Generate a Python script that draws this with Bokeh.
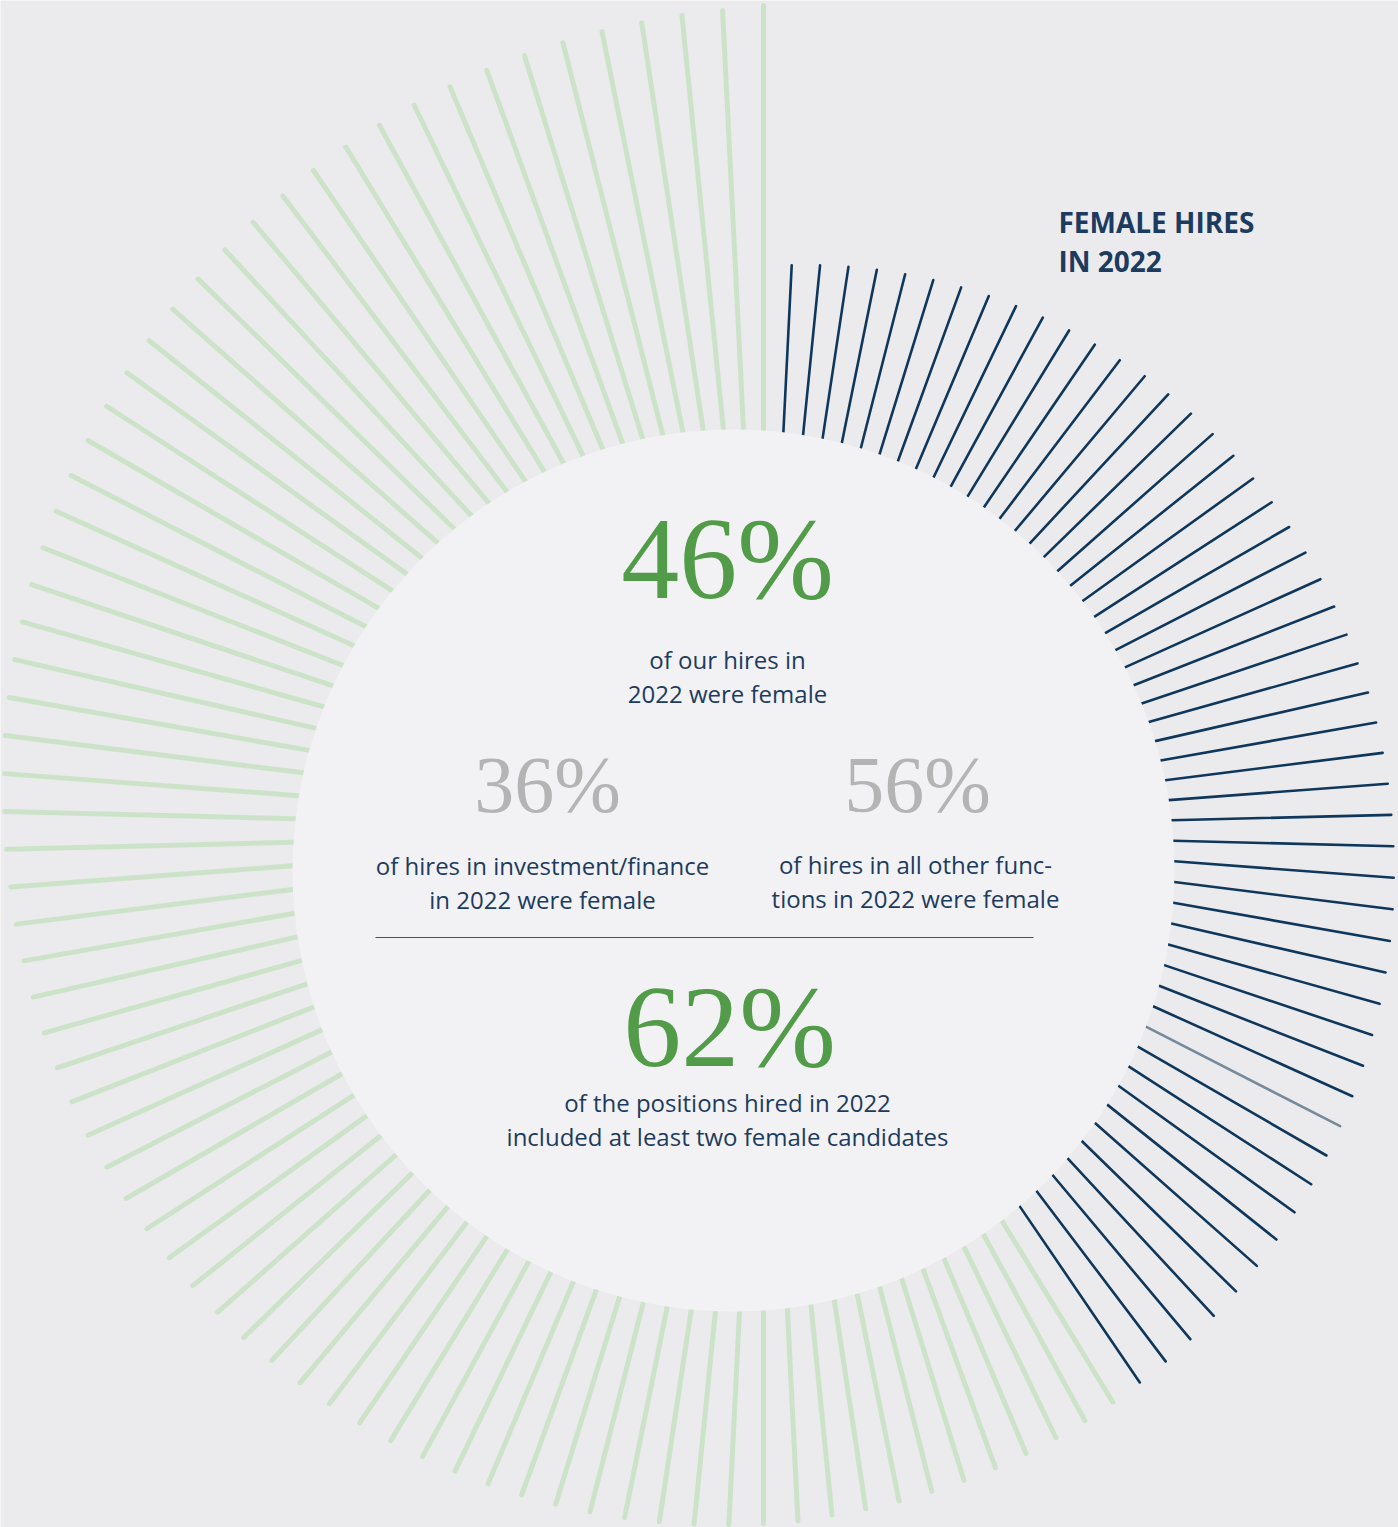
import math
from bokeh.plotting import figure
from bokeh.models import Range1d, ColumnDataSource
from bokeh.embed import file_html
from bokeh.resources import INLINE
from bokeh.core.properties import value

# ---------------- data ----------------
# one radial line per step of 360/126 degrees, index 0 = 12 o'clock, clockwise
line_count = 126
# outer reach of each line, measured from the rays' origin (px)
outer_radius = [
    825,
    566, 568, 570, 572, 574, 576, 578, 580, 582, 584,
    586, 588, 590, 593, 595, 597, 599, 601, 603, 605,
    607, 609, 611, 613, 615, 617, 620, 622, 624, 626,
    628, 630, 632, 634, 636, 638, 640, 642, 644, 646,
    648, 650, 652, 654, 656, 658, 660, 662, 664, 666,
    668, 670, 672, 674, 676, 678, 680, 682, 684, 686,
    688, 691, 693, 695, 697, 699, 701, 703, 705, 707,
    709, 711, 713, 715, 717, 719, 721, 723, 726, 728,
    730, 732, 734, 736, 738, 741, 743, 745, 747, 749,
    751, 753, 755, 757, 759, 761, 764, 766, 768, 770,
    772, 774, 776, 778, 780, 782, 784, 786, 788, 790,
    792, 794, 796, 799, 801, 803, 805, 807, 809, 811,
    813, 815, 817, 819, 821,
]
navy_lines = 51          # lines 1..51 are dark (clockwise from top)
highlight_line = 41      # one line drawn in slate grey

headline = ["FEMALE HIRES", "IN 2022"]
big_values = ["46%", "36%", "56%", "62%"]
captions = [
    ["of our hires in", "2022 were female"],
    ["of hires in investment/finance", "in 2022 were female"],
    ["of hires in all other func-", "tions in 2022 were female"],
    ["of the positions hired in 2022", "included at least two female candidates"],
]

# ---------------- geometry / style ----------------
W, H = 1398, 1527
OFF = 0
BG = "#ebebed"
INNER = "#f2f2f4"
GREEN_LINE = "#cde3c9"
NAVY = "#0f375b"
SLATE = "#778a9b"
TEXT_NAVY = "#1d3b5e"
BIG_GREEN = "#529b48"
BIG_GREY = "#b4b4b4"

FX, FY = 763.0, 830.0      # origin of the rays
CX, CY = 733.0, 870.0      # centre of the inner disc
R_IN = 441.0

# empirical shift so that the requested y is the text baseline
SANS_SHIFT = 0.40
SERIF_SHIFT = 0.355

p = figure(width=W, height=H,
           x_range=Range1d(OFF, OFF + W), y_range=Range1d(OFF + H, OFF),
           output_backend="svg", toolbar_location=None, min_border=0,
           x_axis_location=None, y_axis_location=None)
p.grid.visible = False
p.outline_line_color = None
p.background_fill_color = BG
p.border_fill_color = BG

groups = {"green": ([], [], [], []), "navy": ([], [], [], []), "slate": ([], [], [], [])}
dx, dy = FX - CX, FY - CY
for k in range(line_count):
    th = 2 * math.pi * k / line_count
    ux, uy = math.sin(th), -math.cos(th)
    b = dx * ux + dy * uy
    t0 = -b + math.sqrt(b * b - (dx * dx + dy * dy) + R_IN * R_IN)
    t1 = outer_radius[k]
    if k == highlight_line:
        g = "slate"
    elif 1 <= k <= navy_lines:
        g = "navy"
    else:
        g = "green"
    x0, y0, x1, y1 = groups[g]
    x0.append(FX + t0 * ux); y0.append(FY + t0 * uy)
    x1.append(FX + t1 * ux); y1.append(FY + t1 * uy)

for g, col, lw in [("green", GREEN_LINE, 5), ("navy", NAVY, 2.6), ("slate", SLATE, 2.6)]:
    x0, y0, x1, y1 = groups[g]
    src = ColumnDataSource(dict(x0=x0, y0=y0, x1=x1, y1=y1))
    p.segment("x0", "y0", "x1", "y1", source=src, line_color=col,
              line_width=lw, line_cap="round")

# inner disc
p.circle(x=[CX], y=[CY], radius=R_IN, fill_color=INNER, line_color=None)

# separator
p.segment(x0=[375], y0=[937], x1=[1033], y1=[937], line_color="#3a5572", line_width=1)


def put_text(xs, ys, texts, font, size, color, align="center", style="normal", shift=0.0):
    p.text(x=xs, y=[y - shift * size for y in ys], text=texts,
           text_font=value(font), text_font_size=f"{size}px", text_font_style=style,
           text_color=color, text_align=align, text_baseline="alphabetic")


# headline
put_text([1058, 1058], [233, 272], headline, "Open Sans", 28, TEXT_NAVY,
         align="left", style="bold", shift=SANS_SHIFT)

# big numbers
put_text([727, 729], [600, 1068], [big_values[0], big_values[3]],
         "Liberation Serif", 116, BIG_GREEN, shift=SERIF_SHIFT)
put_text([547, 917], [813, 813], [big_values[1], big_values[2]],
         "Liberation Serif", 80, BIG_GREY, shift=SERIF_SHIFT)

# captions
cap_x = [727, 542, 915, 727]
cap_y = [669, 875, 874, 1112]
xs, ys, ts = [], [], []
for (cx, cy, lines) in zip(cap_x, cap_y, captions):
    for i, t in enumerate(lines):
        xs.append(cx); ys.append(cy + i * 34); ts.append(t)
put_text(xs, ys, ts, "Open Sans", 24, TEXT_NAVY, shift=SANS_SHIFT)

open("out.html", "w").write(file_html(p, INLINE))
